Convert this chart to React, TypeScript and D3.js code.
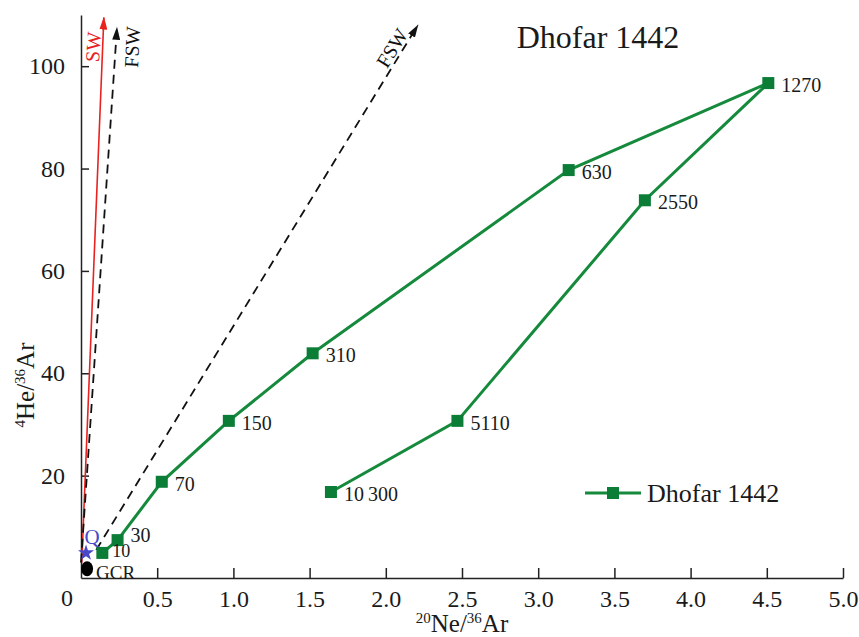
import React, { useEffect, useRef } from 'react';
import * as d3 from 'd3';

// stepwise heating temperatures (labels) and ratios for Dhofar 1442
const tempLabels = ['10', '30', '70', '150', '310', '630', '1270', '2550', '5110', '10\u2009300'];
const neArValues = [0.14, 0.24, 0.53, 0.97, 1.52, 3.2, 4.51, 3.7, 2.47, 1.64];
const heArValues = [4.9, 7.4, 18.8, 30.7, 43.9, 79.7, 96.7, 73.8, 30.7, 16.8];

// endmember components
const compNames = ['Q', 'GCR'];
const compNeAr = [0.033, 0.04];
const compHeAr = [4.9, 1.8];

// solar wind trends (start -> arrow tip)
const trendNames = ['SW', 'FSW', 'FSW'];
const trendStartNe = [0.005, 0.0, 0.1];
const trendStartHe = [3, 3, 5.5];
const trendEndNe = [0.15, 0.236, 2.21];
const trendEndHe = [109.5, 107.5, 108];

const xTicks = [0.5, 1.0, 1.5, 2.0, 2.5, 3.0, 3.5, 4.0, 4.5, 5.0];
const yTicks = [20, 40, 60, 80, 100];

const seriesName = 'Dhofar 1442';

const App = () => {
  const ref = useRef<SVGSVGElement>(null);

  useEffect(() => {
    const svg = d3.select(ref.current);
    svg.selectAll('*').remove();

    const font = "'Liberation Serif', 'Times New Roman', serif";
    const green = '#168a3c';
    const greenDark = '#0b7d37';

    const x = d3.scaleLinear().domain([0, 5]).range([81, 843]);
    const y = d3.scaleLinear().domain([0, 110]).range([578, 15]);

    // arrow heads
    const defs = svg.append('defs');
    [['arrow-red', '#e8231f'], ['arrow-black', '#111']].forEach(([id, c]) => {
      defs.append('marker')
        .attr('id', id)
        .attr('viewBox', '0 0 13 8')
        .attr('refX', 12)
        .attr('refY', 4)
        .attr('markerWidth', 13)
        .attr('markerHeight', 8)
        .attr('markerUnits', 'userSpaceOnUse')
        .attr('orient', 'auto')
        .append('path')
        .attr('d', 'M0,0 L13,4 L0,8 Z')
        .attr('fill', c);
    });

    // axes
    const xAxis = svg.append('g')
      .attr('transform', `translate(0,${y(0)})`)
      .call(d3.axisBottom(x).tickValues(xTicks).tickSize(-10).tickSizeOuter(0)
        .tickPadding(12).tickFormat(d => (+d).toFixed(1)));
    const yAxis = svg.append('g')
      .attr('transform', `translate(${x(0)},0)`)
      .call(d3.axisLeft(y).tickValues(yTicks).tickSize(-8).tickSizeOuter(0).tickPadding(16));

    [xAxis, yAxis].forEach(g => {
      g.select('.domain').attr('stroke', '#222').attr('stroke-width', 1.5);
      g.selectAll('.tick line').attr('stroke', '#222').attr('stroke-width', 1.5);
      g.selectAll('.tick text')
        .attr('fill', '#1a1a1a')
        .style('font-family', font)
        .style('font-size', '24px');
    });

    // shared origin label
    svg.append('text')
      .attr('x', x(0) - 14)
      .attr('y', y(0) + 28)
      .attr('text-anchor', 'middle')
      .attr('fill', '#1a1a1a')
      .style('font-family', font)
      .style('font-size', '24px')
      .text('0');

    // axis titles
    const xt = svg.append('text')
      .attr('x', 462)
      .attr('y', 632)
      .attr('text-anchor', 'middle')
      .attr('fill', '#1a1a1a')
      .style('font-family', font)
      .style('font-size', '25px');
    xt.append('tspan').attr('dy', -9).style('font-size', '15px').text('20');
    xt.append('tspan').attr('dy', 9).text('Ne/');
    xt.append('tspan').attr('dy', -9).style('font-size', '15px').text('36');
    xt.append('tspan').attr('dy', 9).text('Ar');

    const yt = svg.append('text')
      .attr('transform', 'translate(34,385) rotate(-90)')
      .attr('text-anchor', 'middle')
      .attr('fill', '#1a1a1a')
      .style('font-family', font)
      .style('font-size', '25px');
    yt.append('tspan').attr('dy', -9).style('font-size', '15px').text('4');
    yt.append('tspan').attr('dy', 9).text('He/');
    yt.append('tspan').attr('dy', -9).style('font-size', '15px').text('36');
    yt.append('tspan').attr('dy', 9).text('Ar');

    // trend arrows
    trendNames.forEach((name, i) => {
      const red = name === 'SW';
      svg.append('line')
        .attr('x1', x(trendStartNe[i]))
        .attr('y1', y(trendStartHe[i]))
        .attr('x2', x(trendEndNe[i]))
        .attr('y2', y(trendEndHe[i]))
        .attr('stroke', red ? '#e8231f' : '#111')
        .attr('stroke-width', red ? 1.6 : 1.8)
        .attr('stroke-dasharray', red ? null : '9,6')
        .attr('marker-end', red ? 'url(#arrow-red)' : 'url(#arrow-black)');
    });

    // trend labels placed along their arrows
    const trendLabelPos = [[93, 47, -86], [132, 47, -87], [392, 48, -58]];
    trendNames.forEach((name, i) => {
      const [tx, ty, rot] = trendLabelPos[i];
      svg.append('text')
        .attr('transform', `translate(${tx},${ty}) rotate(${rot})`)
        .attr('text-anchor', 'middle')
        .attr('dy', '0.35em')
        .attr('fill', name === 'SW' ? '#e8231f' : '#111')
        .style('font-family', font)
        .style('font-size', '20px')
        .text(name);
    });

    // endmembers
    compNames.forEach((name, i) => {
      const cx = x(compNeAr[i]);
      const cy = y(compHeAr[i]);
      if (name === 'Q') {
        const star = d3.symbol().type(d3.symbolStar).size(80);
        svg.append('path')
          .attr('transform', `translate(${cx},${cy})`)
          .attr('d', star())
          .attr('fill', '#4848c8');
        svg.append('text')
          .attr('x', cx + 6)
          .attr('y', cy - 9)
          .attr('text-anchor', 'middle')
          .attr('fill', '#4848c8')
          .style('font-family', font)
          .style('font-size', '21px')
          .text(name);
      } else {
        svg.append('ellipse')
          .attr('cx', cx)
          .attr('cy', cy)
          .attr('rx', 6)
          .attr('ry', 7.5)
          .attr('fill', '#000');
        svg.append('text')
          .attr('x', cx + 9)
          .attr('y', cy + 10)
          .attr('fill', '#1a1a1a')
          .style('font-family', font)
          .style('font-size', '19px')
          .text(name);
      }
    });

    // data series
    const idx = d3.range(tempLabels.length);
    const line = d3.line<number>()
      .x(i => x(neArValues[i]))
      .y(i => y(heArValues[i]));

    svg.append('path')
      .datum(idx)
      .attr('d', line)
      .attr('fill', 'none')
      .attr('stroke', green)
      .attr('stroke-width', 3);

    svg.selectAll('.pt')
      .data(idx)
      .enter()
      .append('rect')
      .attr('class', 'pt')
      .attr('x', i => x(neArValues[i]) - 6)
      .attr('y', i => y(heArValues[i]) - 6)
      .attr('width', 12)
      .attr('height', 12)
      .attr('fill', greenDark);

    svg.selectAll('.pl')
      .data(idx)
      .enter()
      .append('text')
      .attr('class', 'pl')
      .attr('x', i => x(neArValues[i]) + (i === 0 ? 10 : 13))
      .attr('y', i => y(heArValues[i]) + (i === 1 ? 2 : i === 0 ? 4 : 9))
      .attr('fill', '#1a1a1a')
      .style('font-family', font)
      .style('font-size', i => (i === 0 ? '18px' : '20px'))
      .text(i => tempLabels[i]);

    // title
    svg.append('text')
      .attr('x', 598)
      .attr('y', 48)
      .attr('text-anchor', 'middle')
      .attr('fill', '#1a1a1a')
      .style('font-family', font)
      .style('font-size', '32px')
      .text(seriesName);

    // legend
    const lg = svg.append('g').attr('transform', 'translate(585,493)');
    lg.append('line').attr('x1', 0).attr('x2', 56).attr('y1', 0).attr('y2', 0)
      .attr('stroke', green).attr('stroke-width', 3);
    lg.append('rect').attr('x', 22).attr('y', -6).attr('width', 12).attr('height', 12)
      .attr('fill', greenDark);
    lg.append('text')
      .attr('x', 62)
      .attr('y', 9)
      .attr('fill', '#1a1a1a')
      .style('font-family', font)
      .style('font-size', '26px')
      .text(seriesName);
  }, []);

  return (
    <svg
      ref={ref}
      width={859}
      height={637}
      style={{ position: 'absolute', left: 0, top: 0, background: '#fff' }}
    ></svg>
  );
};

export default App;
